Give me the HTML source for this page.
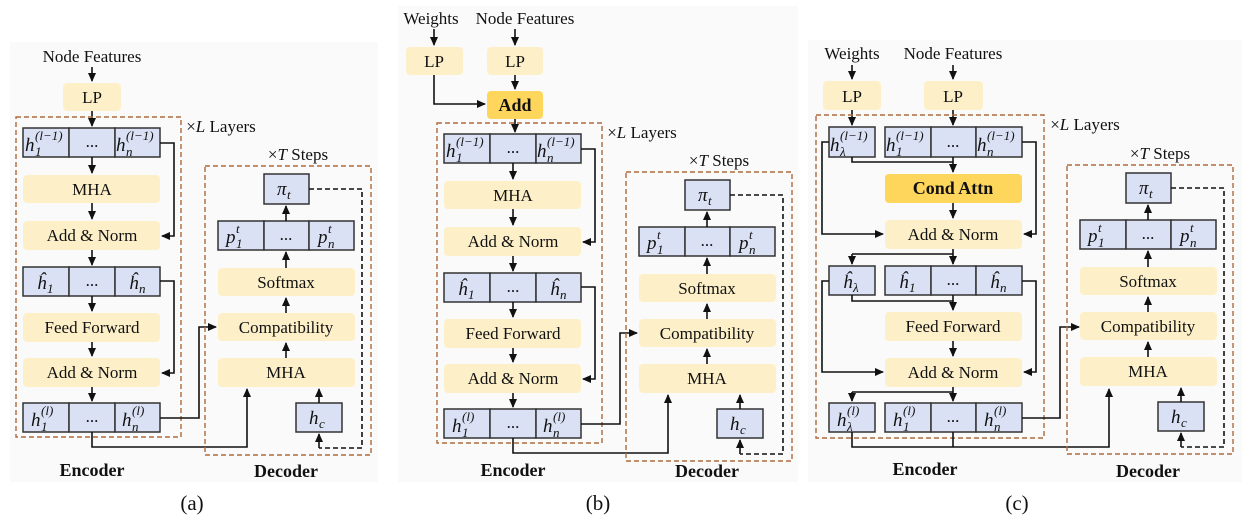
<!DOCTYPE html>
<html><head><meta charset="utf-8"><style>
html,body{margin:0;padding:0;background:#fff}
svg{display:block}
.c{fill:#dbe1f4;stroke:#333;stroke-width:1.5}
.y{fill:#fdf0c9}
.g{fill:#fdd65b}
.t{font-family:"Liberation Serif",serif;font-size:17px;text-anchor:middle;fill:#111}
.b{font-weight:bold;font-size:18px}
.m{font-family:"Liberation Serif",serif;font-style:italic;font-size:19px;fill:#111}
.s{font-family:"Liberation Serif",serif;font-style:italic;font-size:13px;fill:#111}
.d{fill:none;stroke:#b0693a;stroke-width:1.4;stroke-dasharray:5,3}
.l{fill:none;stroke:#111;stroke-width:1.6}
.a{fill:none;stroke:#111;stroke-width:1.6;marker-end:url(#ar)}
.dl{fill:none;stroke:#111;stroke-width:1.6;stroke-dasharray:5,3}
</style></head><body>
<svg width="1249" height="529" viewBox="0 0 1249 529" xmlns="http://www.w3.org/2000/svg">
<defs><marker id="ar" markerUnits="userSpaceOnUse" markerWidth="9" markerHeight="9" refX="8" refY="4.5" orient="auto"><path d="M0,0.5 L9,4.5 L0,8.5 z" fill="#111"/></marker></defs>
<rect x="10" y="42" width="368" height="440" fill="#fafafa"/>
<rect x="398" y="6" width="400" height="476" fill="#fafafa"/>
<rect x="808" y="40" width="434" height="442" fill="#fafafa"/>

<!-- ===== (a) top ===== -->
<text class="t" x="92" y="62">Node Features</text>
<path class="a" d="M92,67 V81"/>
<rect class="y" x="63" y="83" width="58" height="28" rx="4"/><text class="t" x="92" y="103">LP</text>
<path class="a" d="M92,111 V126"/>

<g>
<rect class="d" x="16" y="117" width="165" height="320"/>
<text class="t" x="221" y="132"><tspan>×</tspan><tspan font-style="italic">L</tspan> Layers</text>
<rect class="c" x="23" y="128" width="46" height="29"/><rect class="c" x="69" y="128" width="46" height="29"/><rect class="c" x="115" y="128" width="45" height="29"/>
<text class="m" x="25" y="151">h</text><text class="s" x="35" y="140">(l−1)</text><text class="s" x="35" y="156">1</text>
<text class="t" x="92" y="147">...</text>
<text class="m" x="116" y="151">h</text><text class="s" x="126" y="140">(l−1)</text><text class="s" x="126" y="156">n</text>
<path class="a" d="M92,157 V173"/>
<rect class="y" x="23" y="175" width="137" height="28" rx="4"/><text class="t" x="92" y="195">MHA</text>
<path class="a" d="M92,203 V219"/>
<rect class="y" x="23" y="221" width="137" height="29" rx="4"/><text class="t" x="92" y="241">Add &amp; Norm</text>
<path class="a" d="M160,143 H174 V236 H162"/>
<path class="a" d="M92,250 V265"/>
<rect class="c" x="23" y="267" width="46" height="29"/><rect class="c" x="69" y="267" width="46" height="29"/><rect class="c" x="115" y="267" width="45" height="29"/>
<text class="m" x="37" y="289">ĥ</text><text class="s" x="47" y="293">1</text>
<text class="t" x="92" y="286">...</text>
<text class="m" x="129" y="289">ĥ</text><text class="s" x="139" y="293">n</text>
<path class="a" d="M92,296 V311"/>
<rect class="y" x="23" y="313" width="137" height="29" rx="4"/><text class="t" x="92" y="333">Feed Forward</text>
<path class="a" d="M92,342 V356"/>
<rect class="y" x="23" y="358" width="137" height="29" rx="4"/><text class="t" x="92" y="378">Add &amp; Norm</text>
<path class="a" d="M160,281 H174 V373 H162"/>
<path class="a" d="M92,387 V401"/>
<rect class="c" x="23" y="403" width="46" height="29"/><rect class="c" x="69" y="403" width="46" height="29"/><rect class="c" x="115" y="403" width="45" height="29"/>
<text class="m" x="31" y="426">h</text><text class="s" x="41" y="415">(l)</text><text class="s" x="41" y="431">1</text>
<text class="t" x="92" y="422">...</text>
<text class="m" x="122" y="426">h</text><text class="s" x="132" y="415">(l)</text><text class="s" x="132" y="431">n</text>
<path class="a" d="M160,418 H199 V327 H216"/>
<path class="a" d="M92,432 V447 H247 V389"/>
<text class="t b" x="92" y="476">Encoder</text>
</g>

<g>
<rect class="d" x="205" y="166" width="166" height="289"/>
<text class="t" x="298" y="160"><tspan>×</tspan><tspan font-style="italic">T</tspan> Steps</text>
<rect class="c" x="264" y="174" width="45" height="30"/>
<text class="m" x="277" y="195">π</text><text class="s" x="287" y="199">t</text>
<path class="dl" d="M309,189 H362 V448 H319"/><path class="a" d="M319,448 V434"/>
<rect class="c" x="218" y="221" width="46" height="29"/><rect class="c" x="264" y="221" width="45" height="29"/><rect class="c" x="309" y="221" width="45" height="29"/>
<text class="m" x="226" y="243">p</text><text class="s" x="236" y="233">t</text><text class="s" x="236" y="248">1</text>
<text class="t" x="286" y="240">...</text>
<text class="m" x="318" y="243">p</text><text class="s" x="328" y="233">t</text><text class="s" x="328" y="248">n</text>
<path class="a" d="M286,221 V206"/>
<rect class="y" x="218" y="268" width="137" height="28" rx="4"/><text class="t" x="286" y="288">Softmax</text>
<path class="a" d="M286,268 V252"/>
<rect class="y" x="218" y="313" width="137" height="28" rx="4"/><text class="t" x="286" y="333">Compatibility</text>
<path class="a" d="M286,313 V298"/>
<rect class="y" x="218" y="358" width="137" height="29" rx="4"/><text class="t" x="286" y="378">MHA</text>
<path class="a" d="M286,358 V343"/>
<rect class="c" x="296" y="403" width="46" height="29"/>
<text class="m" x="309" y="424">h</text><text class="s" x="319" y="428">c</text>
<path class="a" d="M319,403 V389"/>
<text class="t b" x="286" y="477">Decoder</text>
</g>
<text class="t" x="192" y="510" style="font-size:21px">(a)</text>

<!-- ===== (b) ===== -->
<text class="t" x="431" y="24">Weights</text>
<text class="t" x="525" y="24">Node Features</text>
<path class="a" d="M434,29 V45"/><path class="a" d="M515,29 V45"/>
<rect class="y" x="406" y="47" width="57" height="28" rx="4"/><text class="t" x="434" y="67">LP</text>
<rect class="y" x="487" y="47" width="56" height="28" rx="4"/><text class="t" x="515" y="67">LP</text>
<path class="a" d="M515,75 V89"/>
<path class="a" d="M434,75 V104 H485"/>
<rect class="g" x="487" y="91" width="56" height="28" rx="4"/><text class="t b" x="515" y="111">Add</text>
<path class="a" d="M515,119 V132"/>
<g transform="translate(421,6)">
<rect class="d" x="16" y="117" width="165" height="320"/>
<text class="t" x="221" y="132"><tspan>×</tspan><tspan font-style="italic">L</tspan> Layers</text>
<rect class="c" x="23" y="128" width="46" height="29"/><rect class="c" x="69" y="128" width="46" height="29"/><rect class="c" x="115" y="128" width="45" height="29"/>
<text class="m" x="25" y="151">h</text><text class="s" x="35" y="140">(l−1)</text><text class="s" x="35" y="156">1</text>
<text class="t" x="92" y="147">...</text>
<text class="m" x="116" y="151">h</text><text class="s" x="126" y="140">(l−1)</text><text class="s" x="126" y="156">n</text>
<path class="a" d="M92,157 V173"/>
<rect class="y" x="23" y="175" width="137" height="28" rx="4"/><text class="t" x="92" y="195">MHA</text>
<path class="a" d="M92,203 V219"/>
<rect class="y" x="23" y="221" width="137" height="29" rx="4"/><text class="t" x="92" y="241">Add &amp; Norm</text>
<path class="a" d="M160,143 H174 V236 H162"/>
<path class="a" d="M92,250 V265"/>
<rect class="c" x="23" y="267" width="46" height="29"/><rect class="c" x="69" y="267" width="46" height="29"/><rect class="c" x="115" y="267" width="45" height="29"/>
<text class="m" x="37" y="289">ĥ</text><text class="s" x="47" y="293">1</text>
<text class="t" x="92" y="286">...</text>
<text class="m" x="129" y="289">ĥ</text><text class="s" x="139" y="293">n</text>
<path class="a" d="M92,296 V311"/>
<rect class="y" x="23" y="313" width="137" height="29" rx="4"/><text class="t" x="92" y="333">Feed Forward</text>
<path class="a" d="M92,342 V356"/>
<rect class="y" x="23" y="358" width="137" height="29" rx="4"/><text class="t" x="92" y="378">Add &amp; Norm</text>
<path class="a" d="M160,281 H174 V373 H162"/>
<path class="a" d="M92,387 V401"/>
<rect class="c" x="23" y="403" width="46" height="29"/><rect class="c" x="69" y="403" width="46" height="29"/><rect class="c" x="115" y="403" width="45" height="29"/>
<text class="m" x="31" y="426">h</text><text class="s" x="41" y="415">(l)</text><text class="s" x="41" y="431">1</text>
<text class="t" x="92" y="422">...</text>
<text class="m" x="122" y="426">h</text><text class="s" x="132" y="415">(l)</text><text class="s" x="132" y="431">n</text>
<path class="a" d="M160,418 H199 V327 H216"/>
<path class="a" d="M92,432 V447 H247 V389"/>
<text class="t b" x="92" y="470">Encoder</text>

<rect class="d" x="205" y="166" width="166" height="289"/>
<text class="t" x="298" y="160"><tspan>×</tspan><tspan font-style="italic">T</tspan> Steps</text>
<rect class="c" x="264" y="174" width="45" height="30"/>
<text class="m" x="277" y="195">π</text><text class="s" x="287" y="199">t</text>
<path class="dl" d="M309,189 H362 V448 H319"/><path class="a" d="M319,448 V434"/>
<rect class="c" x="218" y="221" width="46" height="29"/><rect class="c" x="264" y="221" width="45" height="29"/><rect class="c" x="309" y="221" width="45" height="29"/>
<text class="m" x="226" y="243">p</text><text class="s" x="236" y="233">t</text><text class="s" x="236" y="248">1</text>
<text class="t" x="286" y="240">...</text>
<text class="m" x="318" y="243">p</text><text class="s" x="328" y="233">t</text><text class="s" x="328" y="248">n</text>
<path class="a" d="M286,221 V206"/>
<rect class="y" x="218" y="268" width="137" height="28" rx="4"/><text class="t" x="286" y="288">Softmax</text>
<path class="a" d="M286,268 V252"/>
<rect class="y" x="218" y="313" width="137" height="28" rx="4"/><text class="t" x="286" y="333">Compatibility</text>
<path class="a" d="M286,313 V298"/>
<rect class="y" x="218" y="358" width="137" height="29" rx="4"/><text class="t" x="286" y="378">MHA</text>
<path class="a" d="M286,358 V343"/>
<rect class="c" x="296" y="403" width="46" height="29"/>
<text class="m" x="309" y="424">h</text><text class="s" x="319" y="428">c</text>
<path class="a" d="M319,403 V389"/>
<text class="t b" x="286" y="471">Decoder</text>
</g>
<text class="t" x="598" y="510" style="font-size:21px">(b)</text>

<!-- ===== (c) ===== -->
<text class="t" x="852" y="59">Weights</text>
<text class="t" x="953" y="59">Node Features</text>
<path class="a" d="M852,65 V79"/><path class="a" d="M953,65 V79"/>
<rect class="y" x="823" y="81" width="58" height="29" rx="4"/><text class="t" x="852" y="102">LP</text>
<rect class="y" x="924" y="81" width="59" height="29" rx="4"/><text class="t" x="953" y="102">LP</text>
<path class="a" d="M852,110 V125"/><path class="a" d="M953,110 V125"/>
<rect class="d" x="816" y="115" width="228" height="323"/>
<text class="t" x="1085" y="130"><tspan>×</tspan><tspan font-style="italic">L</tspan> Layers</text>
<rect class="c" x="829" y="127" width="46" height="30"/>
<text class="m" x="830" y="151">h</text><text class="s" x="840" y="140">(l−1)</text><text class="s" x="840" y="156">λ</text>
<rect class="c" x="885" y="127" width="46" height="30"/><rect class="c" x="931" y="127" width="45" height="30"/><rect class="c" x="976" y="127" width="46" height="30"/>
<text class="m" x="886" y="151">h</text><text class="s" x="896" y="140">(l−1)</text><text class="s" x="896" y="156">1</text>
<text class="t" x="953" y="147">...</text>
<text class="m" x="977" y="151">h</text><text class="s" x="987" y="140">(l−1)</text><text class="s" x="987" y="156">n</text>
<path class="l" d="M852,157 V162 H953"/>
<path class="a" d="M953,157 V172"/>
<rect class="g" x="885" y="174" width="137" height="29" rx="4"/><text class="t b" x="953" y="194">Cond Attn</text>
<path class="a" d="M953,203 V218"/>
<rect class="y" x="885" y="220" width="137" height="29" rx="4"/><text class="t" x="953" y="240">Add &amp; Norm</text>
<path class="a" d="M829,142 H822 V234 H883"/>
<path class="a" d="M1022,142 H1036 V234 H1024"/>
<path class="l" d="M953,249 V254 M852,254 H953"/>
<path class="a" d="M852,254 V264"/><path class="a" d="M953,254 V264"/>
<rect class="c" x="829" y="266" width="46" height="29"/>
<text class="m" x="843" y="288">ĥ</text><text class="s" x="853" y="292">λ</text>
<rect class="c" x="885" y="266" width="46" height="29"/><rect class="c" x="931" y="266" width="45" height="29"/><rect class="c" x="976" y="266" width="46" height="29"/>
<text class="m" x="899" y="288">ĥ</text><text class="s" x="909" y="292">1</text>
<text class="t" x="953" y="285">...</text>
<text class="m" x="990" y="288">ĥ</text><text class="s" x="1000" y="292">n</text>
<path class="l" d="M852,295 V301 H953"/>
<path class="a" d="M953,295 V310"/>
<rect class="y" x="885" y="312" width="137" height="29" rx="4"/><text class="t" x="953" y="332">Feed Forward</text>
<path class="a" d="M953,341 V356"/>
<rect class="y" x="885" y="358" width="137" height="29" rx="4"/><text class="t" x="953" y="378">Add &amp; Norm</text>
<path class="a" d="M829,281 H822 V372 H883"/>
<path class="a" d="M1022,281 H1036 V372 H1024"/>
<path class="l" d="M953,387 V392 M852,392 H953"/>
<path class="a" d="M852,392 V401"/><path class="a" d="M953,392 V401"/>
<rect class="c" x="829" y="403" width="46" height="29"/>
<text class="m" x="837" y="426">h</text><text class="s" x="847" y="415">(l)</text><text class="s" x="847" y="431">λ</text>
<rect class="c" x="885" y="403" width="46" height="29"/><rect class="c" x="931" y="403" width="45" height="29"/><rect class="c" x="976" y="403" width="46" height="29"/>
<text class="m" x="893" y="426">h</text><text class="s" x="903" y="415">(l)</text><text class="s" x="903" y="431">1</text>
<text class="t" x="953" y="422">...</text>
<text class="m" x="984" y="426">h</text><text class="s" x="994" y="415">(l)</text><text class="s" x="994" y="431">n</text>
<path class="a" d="M852,432 V447 H1109 V389"/>
<path class="l" d="M953,432 V447"/>
<path class="a" d="M1022,418 H1060 V327 H1079"/>
<text class="t b" x="925" y="475">Encoder</text>
<g transform="translate(862,-1)">
<rect class="d" x="205" y="166" width="166" height="289"/>
<text class="t" x="298" y="160"><tspan>×</tspan><tspan font-style="italic">T</tspan> Steps</text>
<rect class="c" x="264" y="174" width="45" height="30"/>
<text class="m" x="277" y="195">π</text><text class="s" x="287" y="199">t</text>
<path class="dl" d="M309,189 H362 V448 H319"/><path class="a" d="M319,448 V434"/>
<rect class="c" x="218" y="221" width="46" height="29"/><rect class="c" x="264" y="221" width="45" height="29"/><rect class="c" x="309" y="221" width="45" height="29"/>
<text class="m" x="226" y="243">p</text><text class="s" x="236" y="233">t</text><text class="s" x="236" y="248">1</text>
<text class="t" x="286" y="240">...</text>
<text class="m" x="318" y="243">p</text><text class="s" x="328" y="233">t</text><text class="s" x="328" y="248">n</text>
<path class="a" d="M286,221 V206"/>
<rect class="y" x="218" y="268" width="137" height="28" rx="4"/><text class="t" x="286" y="288">Softmax</text>
<path class="a" d="M286,268 V252"/>
<rect class="y" x="218" y="313" width="137" height="28" rx="4"/><text class="t" x="286" y="333">Compatibility</text>
<path class="a" d="M286,313 V298"/>
<rect class="y" x="218" y="358" width="137" height="29" rx="4"/><text class="t" x="286" y="378">MHA</text>
<path class="a" d="M286,358 V343"/>
<rect class="c" x="296" y="403" width="46" height="29"/>
<text class="m" x="309" y="424">h</text><text class="s" x="319" y="428">c</text>
<path class="a" d="M319,403 V389"/>
<text class="t b" x="286" y="478">Decoder</text>
</g>
<text class="t" x="1017" y="510" style="font-size:21px">(c)</text>
</svg>
</body></html>
